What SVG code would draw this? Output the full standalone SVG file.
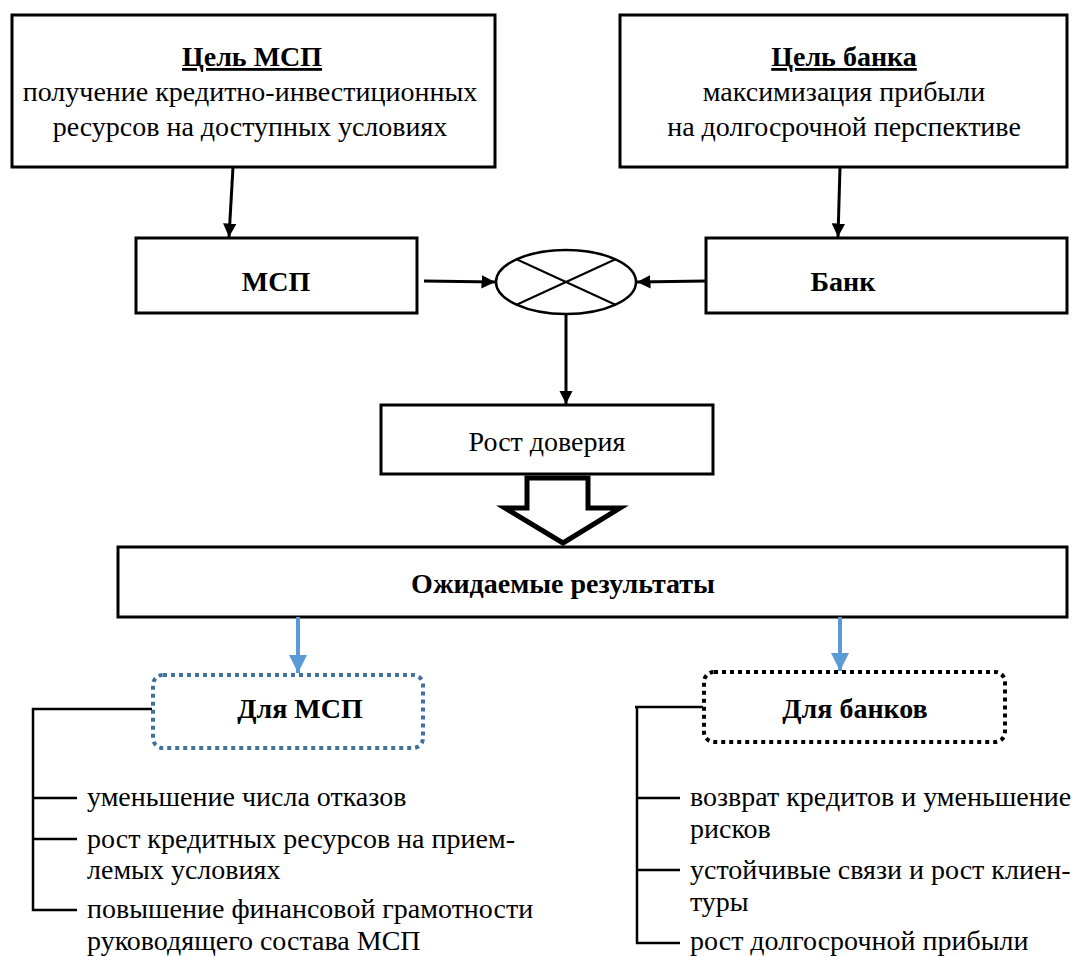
<svg xmlns="http://www.w3.org/2000/svg" width="1075" height="956" viewBox="0 0 1075 956">
<defs>
<style>
text{font-family:'Liberation Serif','DejaVu Serif',serif;font-size:28px;fill:#000}
.b{font-weight:bold}
.c{text-anchor:middle}
.u{text-decoration:underline}
.box{fill:#fff;stroke:#000;stroke-width:3}
.ln{stroke:#000;stroke-width:3;fill:none}
.br{stroke:#000;stroke-width:2.5;fill:none}
.bl{stroke:#5b9bd5;stroke-width:4;fill:none}
</style>
<marker id="ah" viewBox="0 0 10 10" refX="10" refY="5" markerWidth="4.5" markerHeight="4.5" orient="auto" markerUnits="strokeWidth"><path d="M0,0 L10,5 L0,10 z" fill="#000"/></marker>
<marker id="ahb" viewBox="0 0 10 10" refX="10" refY="5" markerWidth="4.5" markerHeight="4.5" orient="auto" markerUnits="strokeWidth"><path d="M0,0 L10,5 L0,10 z" fill="#5b9bd5"/></marker>
</defs>
<rect width="1075" height="956" fill="#fff"/>

<g id="goal-msp">
<rect class="box" x="12" y="15" width="483" height="152"/>
<text class="b c u" x="252" y="66">Цель МСП</text>
<text class="c" x="250" y="101">получение кредитно-инвестиционных</text>
<text class="c" x="250" y="136">ресурсов на доступных условиях</text>
</g>

<g id="goal-bank">
<rect class="box" x="620" y="15" width="447" height="152"/>
<text class="b c u" x="844" y="66">Цель банка</text>
<text class="c" x="844" y="101">максимизация прибыли</text>
<text class="c" x="844" y="136">на долгосрочной перспективе</text>
</g>

<g id="msp">
<rect class="box" x="136" y="238" width="281" height="75"/>
<text class="b c" x="276" y="291">МСП</text>
</g>

<g id="bank">
<rect class="box" x="706" y="238" width="361" height="75"/>
<text class="b c" x="843" y="291">Банк</text>
</g>

<g id="junction">
<ellipse cx="566" cy="282" rx="70" ry="32" fill="#fff" stroke="#000" stroke-width="2.5"/>
<line x1="516" y1="259" x2="616" y2="305" stroke="#000" stroke-width="2"/>
<line x1="516" y1="305" x2="616" y2="259" stroke="#000" stroke-width="2"/>
</g>

<g id="trust">
<rect class="box" x="381" y="405" width="332" height="69"/>
<text class="c" x="547" y="451">Рост доверия</text>
</g>

<g id="big-arrow">
<path d="M527,478 L588,478 L588,508 L620,508 L563,543 L505,508 L527,508 Z" fill="#fff" stroke="#000" stroke-width="5" stroke-linejoin="miter"/>
</g>

<g id="results">
<rect class="box" x="118" y="547" width="949" height="70"/>
<text class="b c" x="563" y="593">Ожидаемые результаты</text>
</g>

<g id="for-msp">
<rect x="153" y="675" width="270" height="73" rx="10" fill="#fff" stroke="#41719c" stroke-width="4" stroke-dasharray="4 4"/>
<text class="b c" x="300" y="718">Для МСП</text>
</g>

<g id="for-bank">
<rect x="704" y="672" width="301" height="70" rx="10" fill="#fff" stroke="#000" stroke-width="4" stroke-dasharray="4 4"/>
<text class="b c" x="855" y="718">Для банков</text>
</g>

<g id="msp-list">
<text x="87" y="806">уменьшение числа отказов</text>
<text x="87" y="848">рост кредитных ресурсов на прием-</text>
<text x="87" y="879">лемых условиях</text>
<text x="87" y="918">повышение финансовой грамотности</text>
<text x="87" y="950">руководящего состава МСП</text>
</g>

<g id="bank-list">
<text x="690" y="806">возврат кредитов и уменьшение</text>
<text x="690" y="838">рисков</text>
<text x="690" y="879">устойчивые связи и рост клиен-</text>
<text x="690" y="911">туры</text>
<text x="690" y="950">рост долгосрочной прибыли</text>
</g>

<g id="connectors">
<line class="ln" x1="233" y1="167" x2="229" y2="237" marker-end="url(#ah)"/>
<line class="ln" x1="840" y1="167" x2="838" y2="237" marker-end="url(#ah)"/>
<line class="ln" x1="424" y1="281" x2="495" y2="282" marker-end="url(#ah)"/>
<line class="ln" x1="706" y1="281" x2="637" y2="282" marker-end="url(#ah)"/>
<line class="ln" x1="566" y1="314" x2="566" y2="404" marker-end="url(#ah)"/>
<line class="bl" x1="298" y1="617" x2="298" y2="673" marker-end="url(#ahb)"/>
<line class="bl" x1="840" y1="617" x2="840" y2="671" marker-end="url(#ahb)"/>
<path class="br" d="M152,709 L33,709 L33,910 L77,910 M33,798 L77,798 M33,839 L77,839"/>
<path class="br" d="M703,707 L635,707 M637,707 L637,943 L680,943 M637,798 L680,798 M637,870 L680,870"/>
</g>
</svg>
